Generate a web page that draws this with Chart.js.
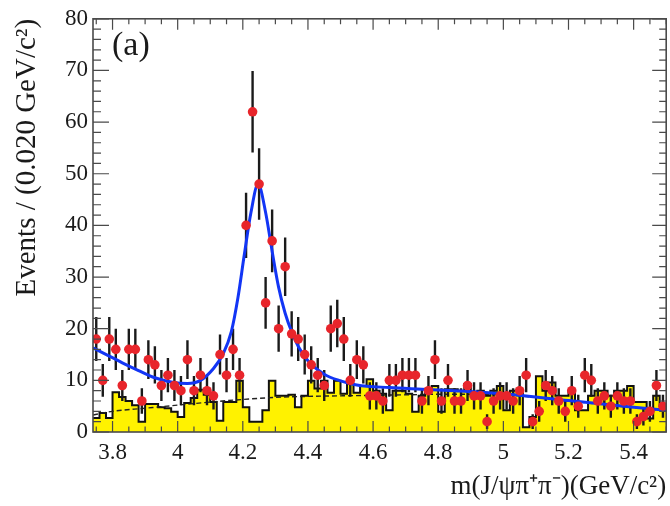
<!DOCTYPE html>
<html>
<head>
<meta charset="utf-8">
<script src="https://cdn.jsdelivr.net/npm/chart.js@4.4.0/dist/chart.umd.min.js"></script>
<style>
  html, body { margin: 0; padding: 0; background: #fff; overflow: hidden; }
  canvas { display: block; }
</style>
</head>
<body>
<canvas id="massChart" width="671" height="506"></canvas>
<script>
// ------------------- Data: m(J/psi pi+ pi-) histogram -------------------
// bin centres, 0.020 GeV/c^2 wide
const massBins = [
  3.75, 3.77, 3.79, 3.81, 3.83, 3.85, 3.87, 3.89, 3.91, 3.93,
  3.95, 3.97, 3.99, 4.01, 4.03, 4.05, 4.07, 4.09, 4.11, 4.13,
  4.15, 4.17, 4.19, 4.21, 4.23, 4.25, 4.27, 4.29, 4.31, 4.33,
  4.35, 4.37, 4.39, 4.41, 4.43, 4.45, 4.47, 4.49, 4.51, 4.53,
  4.55, 4.57, 4.59, 4.61, 4.63, 4.65, 4.67, 4.69, 4.71, 4.73,
  4.75, 4.77, 4.79, 4.81, 4.83, 4.85, 4.87, 4.89, 4.91, 4.93,
  4.95, 4.97, 4.99, 5.01, 5.03, 5.05, 5.07, 5.09, 5.11, 5.13,
  5.15, 5.17, 5.19, 5.21, 5.23, 5.25, 5.27, 5.29, 5.31, 5.33,
  5.35, 5.37, 5.39, 5.41, 5.43, 5.45, 5.47, 5.49
];

// events per bin (red points)
const dataCounts = [
  18, 10, 18, 16, 9, 16, 16, 6, 14, 13,
  9, 11, 9, 8, 14, 8, 11, 8, 7, 15,
  11, 16, 11, 40, 62, 48, 25, 37, 20, 32,
  19, 18, 15, 13, 11, 9, 20, 21, 18, 10,
  14, 13, 7, 7, 6, 10, 10, 11, 11, 11,
  6, 8, 14, 6, 10, 6, 6, 9, 7, 7,
  2, 6, 7, 7, 6, 8, 11, 2, 4, 9,
  8, 6, 4, 8, 5, 11, 10, 6, 7, 5,
  7, 6, 6, 2, 3, 4, 9, 5
];

// sideband histogram (yellow)
const sidebandCounts = [
  2.7, 3.7, 2.7, 7.7, 6.8, 6.0, 5.2, 2.0, 5.4, 5.4,
  4.8, 4.6, 3.9, 2.9, 5.6, 6.6, 8.2, 7.2, 5.8, 2.2,
  5.8, 5.8, 9.9, 4.8, 2.0, 2.0, 4.2, 9.9, 7.0, 7.0,
  7.2, 4.8, 7.0, 9.9, 8.4, 9.9, 7.6, 9.9, 7.4, 9.4,
  7.6, 8.9, 10.2, 8.0, 7.4, 4.2, 8.0, 8.0, 7.4, 3.9,
  7.0, 8.0, 8.9, 3.9, 8.3, 8.3, 8.0, 9.3, 7.0, 8.0,
  7.0, 8.0, 8.9, 4.2, 8.0, 8.0, 0.9, 2.9, 10.8, 8.0,
  9.6, 7.0, 7.0, 8.0, 4.2, 4.2, 7.0, 8.0, 8.0, 7.0,
  8.0, 8.0, 8.9, 5.8, 5.8, 2.6, 7.0, 5.0
];

// total fit curve (blue), sampled off the plot
const fitMass = [
  3.74, 3.79, 3.83, 3.88, 3.93, 3.98, 4.03, 4.07, 4.11, 4.14,
  4.165, 4.185, 4.205, 4.225, 4.247, 4.27, 4.29, 4.31, 4.33, 4.35,
  4.37, 4.40, 4.45, 4.50, 4.55, 4.65, 4.75, 4.85, 5.00, 5.20,
  5.40, 5.50
];
const fitValues = [
  16.3, 14.7, 13.4, 11.9, 10.5, 9.7, 9.4, 10.0, 12.3, 15.2,
  19.5, 26.0, 34.5, 42.5, 48.0, 42.5, 35.0, 28.0, 23.0, 19.4,
  16.6, 13.8, 11.2, 9.9, 9.1, 8.6, 8.3, 8.0, 7.4, 6.1,
  4.8, 4.2
];

// background component (dashed)
const bkgMass = [3.74, 3.80, 3.90, 4.00, 4.10, 4.20, 4.30, 4.40, 4.50, 4.60, 4.70, 4.80, 4.90, 5.00, 5.20, 5.40, 5.50];
const bkgValues = [3.3, 4.0, 4.6, 5.2, 5.8, 6.3, 6.7, 6.9, 7.0, 7.1, 7.2, 7.3, 7.3, 7.2, 6.0, 4.7, 4.1];

const xTickValues = [3.8, 4, 4.2, 4.4, 4.6, 4.8, 5, 5.2, 5.4];
const yTickValues = [0, 10, 20, 30, 40, 50, 60, 70, 80];

// ------------------- Style -------------------
const SERIF = '"Liberation Serif", "Times New Roman", serif';
const TEXT_COLOR = '#1a1a1a';
const FIT_INDEX = 1;

// ------------------- Plugin: error bars (sqrt N) -------------------
const errorBars = {
  id: 'errorBars',
  beforeDatasetDraw(chart, args) {
    if (args.index !== FIT_INDEX) return;
    const { ctx, chartArea: a, scales: { x, y } } = chart;
    ctx.save();
    ctx.beginPath();
    ctx.rect(a.left, a.top, a.right - a.left, a.bottom - a.top);
    ctx.clip();
    ctx.strokeStyle = '#1a1a1a';
    ctx.lineWidth = 2.4;
    ctx.beginPath();
    dataCounts.forEach((n, i) => {
      const err = Math.sqrt(n);
      const px = x.getPixelForValue(massBins[i]);
      ctx.moveTo(px, y.getPixelForValue(n + err));
      ctx.lineTo(px, y.getPixelForValue(Math.max(n - err, 0)));
    });
    ctx.stroke();
    ctx.restore();
  }
};

// ------------------- Plugin: ROOT-style frame, inward ticks, panel label -------------------
const frameAndTicks = {
  id: 'frameAndTicks',
  afterDatasetsDraw(chart) {
    const { ctx, chartArea: a, scales: { x, y } } = chart;
    ctx.save();
    ctx.strokeStyle = '#4a4a4a';
    ctx.lineWidth = 1.2;
    ctx.beginPath();
    // x ticks every 0.05, major every 0.2
    for (let i = 75; i <= 110; i++) {
      const px = x.getPixelForValue(i * 0.05);
      const len = i % 4 === 0 ? 11 : 5.5;
      ctx.moveTo(px, a.bottom); ctx.lineTo(px, a.bottom - len);
      ctx.moveTo(px, a.top); ctx.lineTo(px, a.top + len);
    }
    // y ticks every 2, major every 10
    for (let i = 0; i <= 40; i++) {
      const py = y.getPixelForValue(i * 2);
      const major = i % 5 === 0;
      ctx.moveTo(a.left, py); ctx.lineTo(a.left + (major ? 16 : 8), py);
      ctx.moveTo(a.right, py); ctx.lineTo(a.right - (major ? 14 : 7), py);
    }
    ctx.stroke();
    ctx.lineWidth = 1.6;
    ctx.strokeRect(a.left, a.top, a.right - a.left, a.bottom - a.top);

    ctx.fillStyle = TEXT_COLOR;
    ctx.font = '34px ' + SERIF;
    ctx.textBaseline = 'alphabetic';
    ctx.fillText('(a)', 112, 55);
    ctx.restore();
  }
};

// ------------------- Chart -------------------
const histPoints = massBins.map((m, i) => ({ x: m, y: sidebandCounts[i] }));
histPoints.unshift({ x: 3.74, y: sidebandCounts[0] });
histPoints.push({ x: 5.5, y: sidebandCounts[sidebandCounts.length - 1] });

new Chart(document.getElementById('massChart').getContext('2d'), {
  type: 'scatter',
  data: {
    datasets: [
      {
        label: 'Data',
        data: massBins.map((m, i) => ({ x: m, y: dataCounts[i] })),
        backgroundColor: '#e8252b',
        borderColor: '#e8252b',
        pointRadius: 4.8,
        pointBorderWidth: 0,
        showLine: false,
        order: 0
      },
      {
        label: 'Fit',
        type: 'line',
        data: fitMass.map((m, i) => ({ x: m, y: fitValues[i] })),
        borderColor: '#1235f5',
        borderWidth: 3,
        pointRadius: 0,
        cubicInterpolationMode: 'monotone',
        fill: false,
        order: 1
      },
      {
        label: 'Background',
        type: 'line',
        data: bkgMass.map((m, i) => ({ x: m, y: bkgValues[i] })),
        borderColor: '#222',
        borderWidth: 1.4,
        borderDash: [5, 3],
        pointRadius: 0,
        cubicInterpolationMode: 'monotone',
        fill: false,
        order: 2
      },
      {
        label: 'Sideband',
        type: 'line',
        data: histPoints,
        stepped: 'middle',
        borderColor: '#111',
        borderWidth: 2,
        backgroundColor: '#fff200',
        fill: 'origin',
        pointRadius: 0,
        order: 3
      }
    ]
  },
  options: {
    responsive: false,
    animation: false,
    events: [],
    layout: { padding: { left: 0, top: 11, right: 0, bottom: 0 } },
    plugins: {
      legend: { display: false },
      tooltip: { enabled: false }
    },
    scales: {
      x: {
        type: 'linear',
        min: 3.74,
        max: 5.5,
        grid: { display: false, drawTicks: false },
        border: { display: false },
        afterBuildTicks: s => { s.ticks = xTickValues.map(v => ({ value: v })); },
        afterFit: s => { s.height = 74; },
        ticks: {
          autoSkip: false,
          maxRotation: 0,
          padding: 7,
          color: TEXT_COLOR,
          font: { family: SERIF, size: 23 },
          callback: v => String(v)
        },
        title: {
          display: true,
          text: 'm(J/ψπ⁺π⁻)(GeV/c²)',
          align: 'end',
          color: TEXT_COLOR,
          font: { family: SERIF, size: 27 },
          padding: { top: 0, bottom: 3 }
        }
      },
      y: {
        min: 0,
        max: 80,
        grid: { display: false, drawTicks: false },
        border: { display: false },
        afterBuildTicks: s => { s.ticks = yTickValues.map(v => ({ value: v })); },
        afterFit: s => { s.width = 93; },
        ticks: {
          padding: 5,
          color: TEXT_COLOR,
          font: { family: SERIF, size: 23 },
          callback: v => String(v)
        },
        title: {
          display: true,
          text: 'Events / (0.020 GeV/c²)',
          align: 'end',
          color: TEXT_COLOR,
          font: { family: SERIF, size: 29 },
          padding: { top: 10, bottom: 0 }
        }
      }
    }
  },
  plugins: [errorBars, frameAndTicks]
});
</script>
</body>
</html>
